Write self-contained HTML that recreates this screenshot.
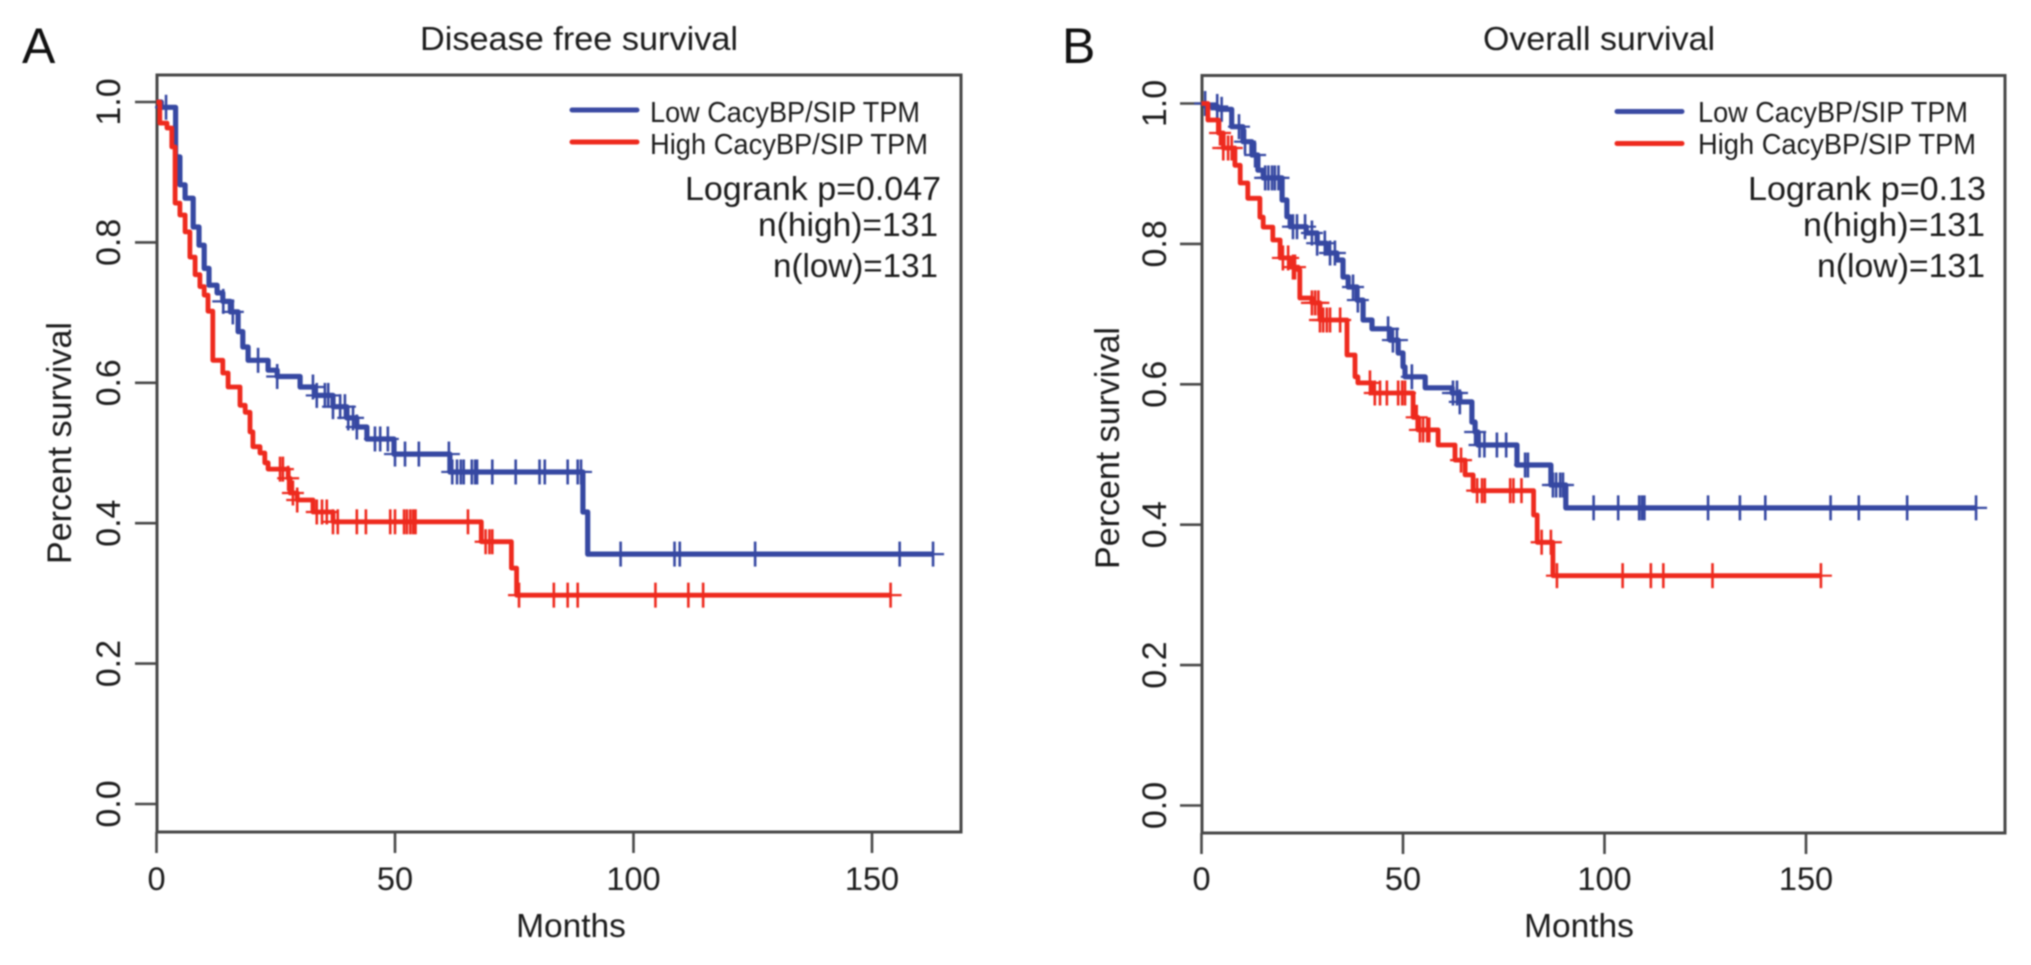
<!DOCTYPE html>
<html lang="en">
<head>
<meta charset="utf-8">
<title>Disease free and overall survival</title>
<style>
html,body{margin:0;padding:0;background:#fff;width:2031px;height:965px;overflow:hidden}
svg{display:block;filter:blur(.75px)}
text{font-family:"Liberation Sans",Arial,sans-serif;fill:#1c1c1c}
</style>
</head>
<body>
<svg id="figure" width="2031" height="965" viewBox="0 0 2031 965" xmlns="http://www.w3.org/2000/svg">
  <rect x="0" y="0" width="2031" height="965" fill="#fff"/>
  <text x="22" y="63" font-size="50" style="fill:#111">A</text>
  <text x="1062" y="63" font-size="50" style="fill:#111">B</text>

  <text x="420" y="50" font-size="33.5" textLength="318" lengthAdjust="spacingAndGlyphs">Disease free survival</text>
  <text x="1483" y="50" font-size="33.5" textLength="232" lengthAdjust="spacingAndGlyphs">Overall survival</text>

  <text x="571" y="937" font-size="33.5" text-anchor="middle">Months</text>
  <text x="1579" y="937" font-size="33.5" text-anchor="middle">Months</text>
  <text transform="translate(71,443) rotate(-90)" font-size="34" text-anchor="middle">Percent survival</text>
  <text transform="translate(1119,448) rotate(-90)" font-size="34" text-anchor="middle">Percent survival</text>

  <g>
    <line x1="572" y1="110" x2="637" y2="110" stroke="#3b4aa3" stroke-width="5" stroke-linecap="round"/>
    <line x1="572" y1="142" x2="637" y2="142" stroke="#ee2a1e" stroke-width="5" stroke-linecap="round"/>
    <text x="650" y="122" font-size="29" textLength="270" lengthAdjust="spacingAndGlyphs">Low CacyBP/SIP TPM</text>
    <text x="650" y="154" font-size="29" textLength="278" lengthAdjust="spacingAndGlyphs">High CacyBP/SIP TPM</text>
    <text x="685" y="200" font-size="33.5" textLength="256" lengthAdjust="spacingAndGlyphs">Logrank p=0.047</text>
    <text x="758" y="236" font-size="33.5" textLength="180" lengthAdjust="spacingAndGlyphs">n(high)=131</text>
    <text x="773" y="277" font-size="33.5" textLength="165" lengthAdjust="spacingAndGlyphs">n(low)=131</text>
  </g>

  <g>
    <line x1="1617" y1="111.5" x2="1682" y2="111.5" stroke="#3b4aa3" stroke-width="5" stroke-linecap="round"/>
    <line x1="1617" y1="143.5" x2="1682" y2="143.5" stroke="#ee2a1e" stroke-width="5" stroke-linecap="round"/>
    <text x="1698" y="122" font-size="29" textLength="270" lengthAdjust="spacingAndGlyphs">Low CacyBP/SIP TPM</text>
    <text x="1698" y="154" font-size="29" textLength="278" lengthAdjust="spacingAndGlyphs">High CacyBP/SIP TPM</text>
    <text x="1748" y="200" font-size="33.5" textLength="238" lengthAdjust="spacingAndGlyphs">Logrank p=0.13</text>
    <text x="1803" y="236" font-size="33.5" textLength="182" lengthAdjust="spacingAndGlyphs">n(high)=131</text>
    <text x="1817" y="277" font-size="33.5" textLength="168" lengthAdjust="spacingAndGlyphs">n(low)=131</text>
  </g>
</svg>

<script>
const xTickValues = [0, 50, 100, 150];
const yTickValues = [0, 0.2, 0.4, 0.6, 0.8, 1];
const yTickLabels = ["0.0", "0.2", "0.4", "0.6", "0.8", "1.0"];

const dfsLowTimes = [0,1,4,4.9,6,7.7,8.9,10,11,12.7,13.9,15.5,17.1,18.1,19.2,23.4,25.3,30.1,33.2,37,39.9,42,44.1,49.8,61.5,89.4,90.4];
const dfsLowSurvival = [1,.9925,.922,.882,.863,.822,.796,.763,.739,.728,.716,.701,.673,.651,.632,.618,.609,.594,.582,.566,.55,.537,.52,.4985,.473,.416,.356];
const dfsLowCensored = [2,14,16,21.3,25.3,32.8,33.6,35.3,36,37,38.5,39.5,40.2,41.2,42,45.8,46.9,48.5,50,52.1,55,61.3,62,63,63.8,64.4,66.1,66.8,67.2,70.4,75.3,80.3,81.4,86.2,88.3,89,97.3,108.6,109.7,125.5,155.8,162.8];

const dfsHighTimes = [0,.7,2.2,3.2,3.9,4.9,6,7,8.1,9.1,10,10.8,11.8,13.9,15,17.5,18.6,19.6,20.2,21.7,22.7,23.4,27.6,28,29.5,32.8,37,68.1,74.4,75.5];
const dfsHighSurvival = [1,.97,.963,.936,.856,.839,.815,.779,.754,.737,.725,.702,.632,.614,.594,.568,.558,.53,.509,.5,.486,.477,.464,.443,.433,.416,.402,.3736,.336,.2975];
const dfsHighCensored = [25.9,26.5,27.6,28.6,29.5,33.6,34.7,35.7,37,38,42,43.9,49,50,51.9,52.5,53.2,53.8,54.3,65.3,69,69.8,70.4,76,83.3,86.2,88.3,104.6,111.5,114.6,153.9];

const osLowTimes = [0,1,4,7.5,10.3,12.5,14,15.3,20,21.2,22,26,28.7,31.1,33.6,35.1,36.4,38.6,40.1,42.3,46.8,48.8,50,50.5,55.5,62.2,64.1,67.1,67.9,68.6,78.3,86.7,90.4];
const osLowSurvival = [1,.9958,.9917,.967,.9456,.9266,.905,.894,.8626,.8387,.8245,.8155,.801,.787,.777,.7528,.7386,.72,.6916,.679,.663,.6446,.625,.6107,.595,.5876,.575,.546,.532,.5135,.485,.4565,.424];
const osLowCensored = [.9,3.9,5,9.3,10.8,13.3,15.8,16.6,17.5,18.2,19.1,22.7,23.7,25.7,27.4,28.7,30.6,31.9,33.1,37.6,38.8,46.3,47.5,48.5,52.2,62.4,63.4,64.1,67.9,69,70.2,73.3,75.6,80.3,81,87.2,88,89,89.7,97.3,103.4,108.6,109.3,109.9,125.7,133.6,139.9,156.1,163.1,175.1,192.2];

const osHighTimes = [0,1.6,4.2,5.4,8.3,9.6,11.5,14.5,15.3,17.7,19.5,22,24,24.4,27.4,29.4,36.1,38.1,38.8,42.3,52.5,53.7,58.7,62.9,65.4,67.4,82.4,83.3,87.2];
const osHighSurvival = [1,.9765,.958,.9366,.912,.8867,.865,.838,.824,.8056,.78,.767,.763,.723,.716,.6916,.6417,.6107,.602,.5876,.553,.535,.5135,.492,.471,.4485,.4138,.375,.3274];
const osHighCensored = [4.6,5.4,6.6,7.5,20.2,21.5,22.7,23.2,27.4,28.2,29,29.4,30.2,31.1,31.9,34.4,41.8,43,44.3,46,48.8,49.8,50.5,53.4,54.2,55,56,56.5,64.4,68.4,69.6,70.3,76.6,77.4,79.4,84.4,86.7,88.2,104.5,111.5,114.6,126.8,153.7];

const SVG_NS = "http://www.w3.org/2000/svg";
const figure = document.getElementById("figure");
const AXIS_COLOR = "#474747";
const BLUE = "#3648a2";
const RED = "#ee2a1e";

function survivalAt(times, survival, t) {
  let value = survival[0];
  for (let i = 0; i < times.length; i++) {
    if (times[i] <= t) value = survival[i];
  }
  return value;
}

function svgLine(parent, x1, y1, x2, y2, color, width) {
  const el = document.createElementNS(SVG_NS, "line");
  el.setAttribute("x1", x1);
  el.setAttribute("y1", y1);
  el.setAttribute("x2", x2);
  el.setAttribute("y2", y2);
  el.setAttribute("stroke", color);
  el.setAttribute("stroke-width", width);
  parent.appendChild(el);
  return el;
}

function drawSeries(parent, xScale, yScale, times, survival, censored, color, width, seriesName) {
  const endTime = Math.max(times[times.length - 1], censored[censored.length - 1]);
  let d = "M" + xScale(times[0]) + " " + yScale(survival[0]);
  for (let i = 1; i < times.length; i++) {
    d += "H" + xScale(times[i]).toFixed(1) + "V" + yScale(survival[i]).toFixed(1);
  }
  d += "H" + xScale(endTime).toFixed(1);

  const curve = document.createElementNS(SVG_NS, "path");
  
  
  curve.setAttribute("d", d);
  curve.setAttribute("fill", "none");
  curve.setAttribute("stroke", color);
  curve.setAttribute("stroke-width", width);
  curve.setAttribute("stroke-linejoin", "round");
  parent.appendChild(curve);

  censored.forEach(function (t) {
    const px = xScale(t);
    const py = yScale(survivalAt(times, survival, t));
    const mark = document.createElementNS(SVG_NS, "g");
    
    
    svgLine(mark, px - 11, py, px + 11, py, color, 2.2);
    svgLine(mark, px, py - 12.5, px, py + 12.5, color, 2.6);
    parent.appendChild(mark);
  });
}

function drawPanel(panelName, left, right, top, bottom, x0, xPerMonth, y0, yPerUnit, labelBaseline, series) {
  const xScale = function (t) { return x0 + xPerMonth * t; };
  const yScale = function (v) { return y0 - yPerUnit * v; };

  const panel = document.createElementNS(SVG_NS, "g");
  
  
  figure.appendChild(panel);

  const frame = document.createElementNS(SVG_NS, "rect");
  
  
  frame.setAttribute("x", left);
  frame.setAttribute("y", top);
  frame.setAttribute("width", right - left);
  frame.setAttribute("height", bottom - top);
  frame.setAttribute("fill", "none");
  frame.setAttribute("stroke", AXIS_COLOR);
  frame.setAttribute("stroke-width", 3);
  panel.appendChild(frame);

  xTickValues.forEach(function (v) {
    const tick = svgLine(panel, xScale(v), bottom, xScale(v), bottom + 21, AXIS_COLOR, 2.6);
    
    
    const label = document.createElementNS(SVG_NS, "text");
    
    
    label.setAttribute("x", xScale(v));
    label.setAttribute("y", 890);
    label.setAttribute("font-size", 32.5);
    label.setAttribute("text-anchor", "middle");
    label.textContent = String(v);
    panel.appendChild(label);
  });

  yTickValues.forEach(function (v, i) {
    const tick = svgLine(panel, left - 22, yScale(v), left, yScale(v), AXIS_COLOR, 2.6);
    
    
    const label = document.createElementNS(SVG_NS, "text");
    
    
    label.setAttribute("transform", "translate(" + labelBaseline + "," + yScale(v) + ") rotate(-90)");
    label.setAttribute("font-size", 34);
    label.setAttribute("text-anchor", "middle");
    label.textContent = yTickLabels[i];
    panel.appendChild(label);
  });

  series(panel, xScale, yScale);
}

drawPanel("panel-a-disease-free-survival", 157, 961, 75, 832, 156.5, 4.77, 804, 702, 120, function (panel, xScale, yScale) {
  drawSeries(panel, xScale, yScale, dfsLowTimes, dfsLowSurvival, dfsLowCensored, BLUE, 5.2, "low-tpm");
  drawSeries(panel, xScale, yScale, dfsHighTimes, dfsHighSurvival, dfsHighCensored, RED, 4.8, "high-tpm");
});

drawPanel("panel-b-overall-survival", 1202, 2005, 75.5, 833, 1201.5, 4.03, 805.5, 702, 1166, function (panel, xScale, yScale) {
  drawSeries(panel, xScale, yScale, osLowTimes, osLowSurvival, osLowCensored, BLUE, 5.2, "low-tpm");
  drawSeries(panel, xScale, yScale, osHighTimes, osHighSurvival, osHighCensored, RED, 4.8, "high-tpm");
});
</script>
</body>
</html>
